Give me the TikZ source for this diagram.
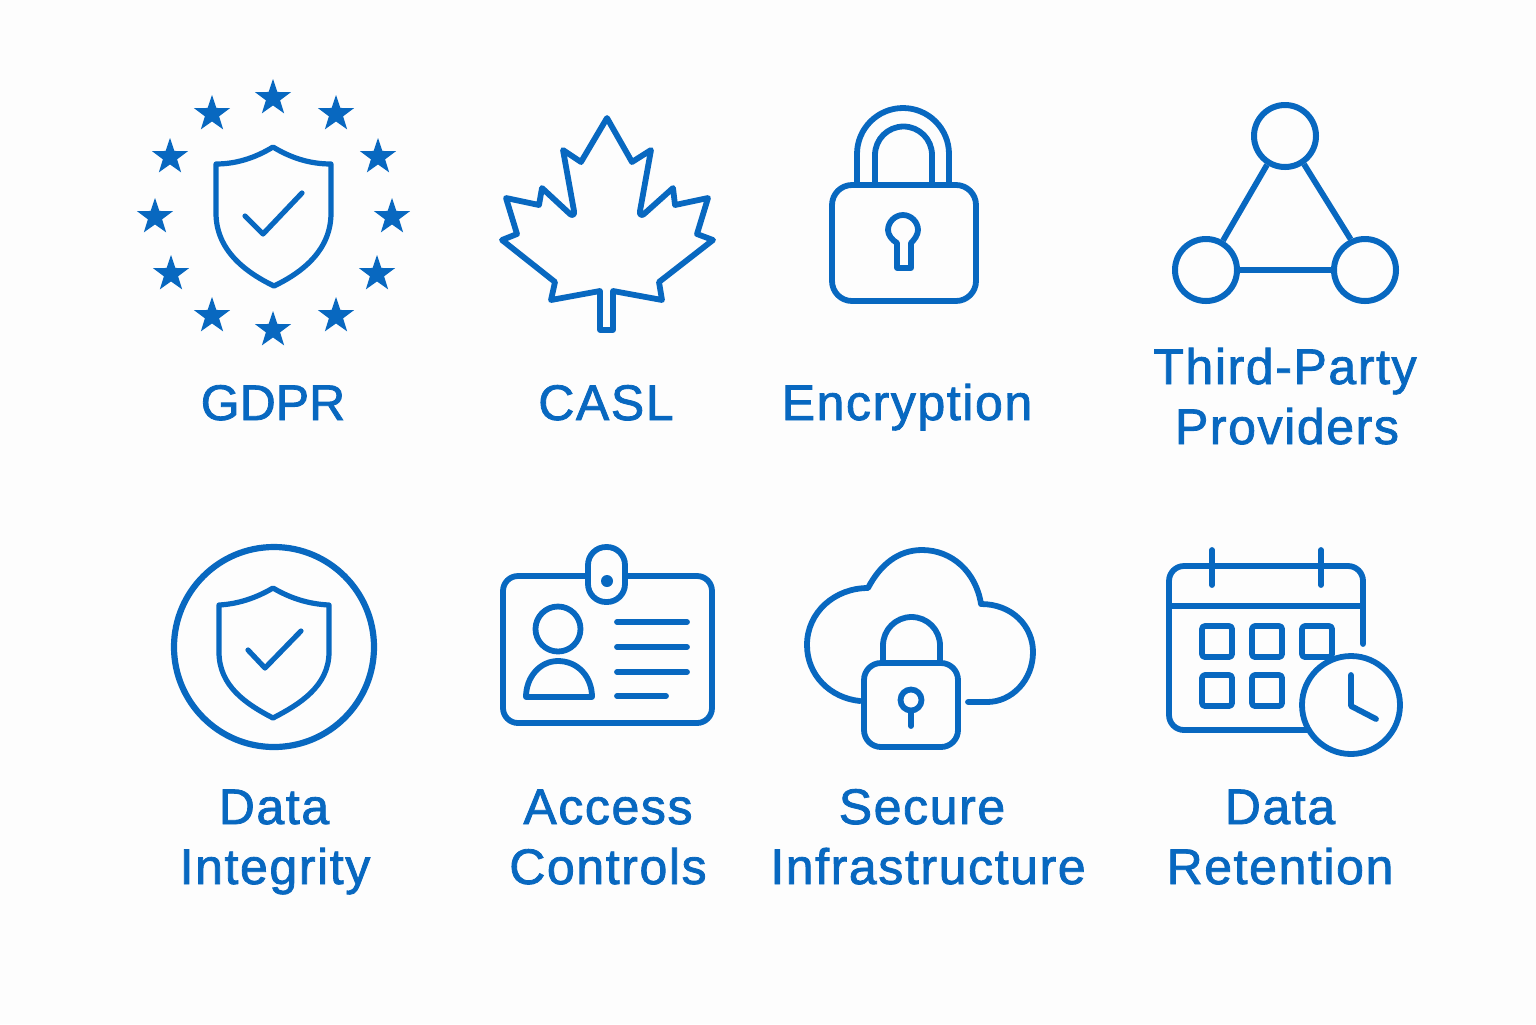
\documentclass[tikz,border=0pt]{standalone}
\usepackage{fontspec}
\setmainfont{Liberation Sans}[FakeBold=1.6,LetterSpace=3.2]
\usetikzlibrary{shapes.geometric}
\definecolor{iconblue}{HTML}{0868C0}
\definecolor{paper}{HTML}{FDFDFD}
\tikzset{
  ico/.style={draw=iconblue,line width=2.9pt,line join=round,line cap=round},
  thin ico/.style={draw=iconblue,line width=2.6pt,line join=round,line cap=round},
  eustar/.style={star,star points=5,star point ratio=2.55,fill=iconblue,draw=none,inner sep=0pt,minimum size=19pt},
  lab/.style={text=iconblue,anchor=base,font=\fontsize{25}{30}\selectfont,inner sep=0pt},
  hub/.style={circle,draw=iconblue,line width=3pt,minimum size=31pt,inner sep=0pt}
}
\begin{document}
\begin{tikzpicture}[x=0.5pt,y=-0.5pt]
\fill[paper] (0,0) rectangle (1536,1024);
\useasboundingbox (0,0) rectangle (1536,1024);
% GDPR
\foreach \i/\x/\y in {1/273/98,2/212/114,3/336/114,4/170/157,5/378/157,6/155/217,7/392/217,8/171/274,9/377/274,10/212/316,11/336/316,12/273/330}
  \node[eustar] (star\i) at (\x,\y) {};
\draw[thin ico] (273,147) .. controls (255,158) and (236,164) .. (216,164) -- (216,213) .. controls (216,250) and (245,272) .. (274,286) .. controls (303,272) and (331,250) .. (331,213) -- (331,164) .. controls (310,164) and (291,158) .. (273,147) -- cycle;
\draw[thin ico] (245,216) -- (263,234) -- (302,193);
% CASL
\draw[ico] (607,118) -- (632,162) -- (651,150) -- (640,211) .. controls (639,215) and (642,216) .. (644,214) -- (673,188) -- (675,205) -- (708,198) -- (697,234) -- (713,240) -- (659,282) -- (662,300) -- (613,291) -- (613,330) -- (600,330) -- (600,291) -- (551,300) -- (555,282) -- (502,240) -- (517,234) -- (506,198) -- (539,205) -- (542,188) -- (570,214) .. controls (572,216) and (575,215) .. (574,211) -- (563,150) -- (581,162) -- cycle;
% Encryption
\draw[ico,rounded corners=10pt] (832,185) rectangle (976,301);
\draw[ico] (857,185) -- (857,154) arc[start angle=180,end angle=360,radius=46] -- (949,185);
\draw[ico] (875,185) -- (875,155) arc[start angle=180,end angle=360,radius=28.5] -- (932,185);
\draw[ico] (897,243) .. controls (892,240) and (888,235) .. (888,230) .. controls (888,222) and (895,215) .. (903,215) .. controls (911,215) and (918,222) .. (918,230) .. controls (918,235) and (914,240) .. (911,243) -- (911,268) -- (897,268) -- cycle;
% Third-party
\node[hub] (tpa) at (1285,136) {};
\node[hub] (tpb) at (1206,270) {};
\node[hub] (tpc) at (1365,270) {};
\draw[ico,line cap=butt] (tpa.-122) -- (tpb.60);
\draw[ico,line cap=butt] (tpa.-56) -- (tpc.115);
\draw[ico,line cap=butt] (tpb) -- (tpc);
% Data integrity
\draw[ico,line width=3.1pt] (274,647) circle[radius=100];
\draw[thin ico] (273,588) .. controls (256,598) and (238,604) .. (219,605) -- (219,652) .. controls (219,686) and (246,704) .. (273,718) .. controls (300,704) and (329,686) .. (329,652) -- (329,605) .. controls (308,604) and (290,598) .. (273,588) -- cycle;
\draw[thin ico] (248,650) -- (265,668) -- (301,631);
% Access controls
\draw[ico,rounded corners=7.5pt] (588,576) -- (503,576) -- (503,723) -- (712,723) -- (712,576) -- (625,576);
\draw[ico,rounded corners=9pt] (588,547) rectangle (625,602);
\fill[iconblue] (607,581) circle[radius=6];
\draw[ico] (558,629) circle[radius=22.5];
\draw[ico] (526,697) .. controls (526,677) and (540,661) .. (558,661) .. controls (578,661) and (592,677) .. (592,697) -- cycle;
\draw[ico] (617,622) -- (687,622);
\draw[ico] (617,647) -- (687,647);
\draw[ico] (617,672) -- (687,672);
\draw[ico] (617,696) -- (666,696);
% Secure infrastructure
\draw[ico] (860,701) .. controls (830,698) and (807,675) .. (807,645) .. controls (807,612) and (835,588) .. (868,588) .. controls (880,565) and (898,550) .. (922,550) .. controls (952,550) and (976,572) .. (981,604) .. controls (1012,604) and (1033,626) .. (1033,652) .. controls (1033,680) and (1012,702) .. (987,702) -- (968,702);
\draw[ico,rounded corners=8.5pt] (864,663) rectangle (958,747);
\draw[ico] (883,663) -- (883,645.5) arc[start angle=180,end angle=360,radius=28.5] -- (940,663);
\draw[ico] (911,700) circle[radius=10.5];
\draw[ico] (911,711) -- (911,726);
% Data retention
\draw[ico,rounded corners=7.5pt] (1307,730) -- (1169,730) -- (1169,566) -- (1363,566) -- (1363,644);
\draw[ico] (1169,606) -- (1363,606);
\draw[ico] (1212,550) -- (1212,585);
\draw[ico] (1321,550) -- (1321,585);
\foreach \a/\b in {1202/626,1252/626,1302/626,1202/675,1252/675}
  \draw[ico,rounded corners=1.5pt] (\a,\b) rectangle +(30,31);
\draw[ico,fill=paper] (1351,705) circle[radius=49];
\draw[ico] (1351,675) -- (1351,706) -- (1376,719);
% Labels
\node[lab] (l1) at (273,420) {\addfontfeature{LetterSpace=0}GDPR};
\node[lab] (l2) at (606,420) {CASL};
\node[lab] (l3) at (907,420) {Encryption};
\node[lab] (l4a) at (1285,384) {Third-Party};
\node[lab] (l4b) at (1287,444) {Providers};
\node[lab] (l5a) at (274,824) {Data};
\node[lab] (l5b) at (275,884) {Integrity};
\node[lab] (l6a) at (608,824) {Access};
\node[lab] (l6b) at (608,884) {Controls};
\node[lab] (l7a) at (922,824) {Secure};
\node[lab] (l7b) at (928,884) {Infrastructure};
\node[lab] (l8a) at (1280,824) {Data};
\node[lab] (l8b) at (1280,884) {Retention};
\end{tikzpicture}
\end{document}
